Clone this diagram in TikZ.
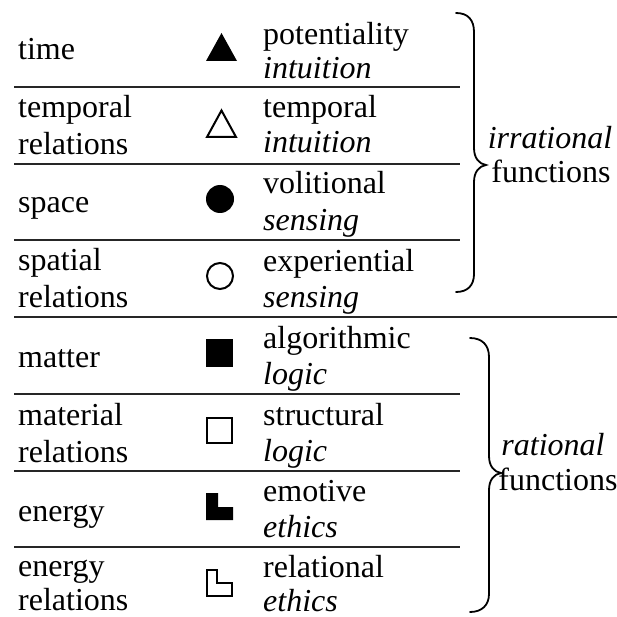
\documentclass[tikz,border=0pt]{standalone}
\usepackage{fontspec}
\setmainfont{Liberation Serif}
\begin{document}
\begin{tikzpicture}[x=1pt,y=-1pt,
  txt/.style={anchor=base west, inner sep=0pt, font=\fontsize{32}{36}\selectfont},
  ctxt/.style={anchor=base, inner sep=0pt, font=\fontsize{32}{36}\selectfont},
  rule/.style={line width=1.3pt, draw=black!85},
  symline/.style={line width=2pt, draw=black, line join=miter},
  symfill/.style={fill=black},
  brc/.style={line width=1.8pt, line cap=round, draw=black}]
\useasboundingbox (0,0) rectangle (617,617);
\fill[white] (0,0) rectangle (617,617);
% left column
\node[txt] (l1) at (18,60) {time};
\node[txt] (l2a) at (18,118) {temporal};
\node[txt] (l2b) at (18,155) {relations};
\node[txt] (l3) at (18,213) {space};
\node[txt] (l4a) at (18,270) {spatial};
\node[txt] (l4b) at (18,307) {relations};
\node[txt] (l5) at (18,367) {matter};
\node[txt] (l6a) at (18,425) {material};
\node[txt] (l6b) at (18,462) {relations};
\node[txt] (l7) at (18,521) {energy};
\node[txt] (l8a) at (18,576) {energy};
\node[txt] (l8b) at (18,610) {relations};
% right column
\node[txt] (r1a) at (263,45) {potentiality};
\node[txt] (r1b) at (263,79) {\itshape intuition};
\node[txt] (r2a) at (263,118) {temporal};
\node[txt] (r2b) at (263,153) {\itshape intuition};
\node[txt] (r3a) at (263,194) {volitional};
\node[txt] (r3b) at (263,230) {\itshape sensing};
\node[txt] (r4a) at (263,271) {experiential};
\node[txt] (r4b) at (263,307) {\itshape sensing};
\node[txt] (r5a) at (263,348) {algorithmic};
\node[txt] (r5b) at (263,384) {\itshape logic};
\node[txt] (r6a) at (263,425) {structural};
\node[txt] (r6b) at (263,461) {\itshape logic};
\node[txt] (r7a) at (263,501) {emotive};
\node[txt] (r7b) at (263,537) {\itshape ethics};
\node[txt] (r8a) at (263,577) {relational};
\node[txt] (r8b) at (263,611) {\itshape ethics};
% rules
\foreach \y in {87,164,240,394,471,547} \draw[rule] (14,\y) -- (460,\y);
\draw[rule] (14,317) -- (617,317);
% symbols
\fill[symfill] (206,61) -- (237,61) -- (221.5,33) -- cycle;
\draw[symline] (207,137) -- (236,137) -- (221.5,110.5) -- cycle;
\fill[symfill] (220,199) circle (14);
\draw[symline] (220,276) circle (13);
\fill[symfill] (206,339) rectangle (233,367);
\draw[symline] (207,418) rectangle (232,443);
\fill[symfill] (206,493) -- (218,493) -- (218,507) -- (233,507) -- (233,520) -- (206,520) -- cycle;
\draw[symline] (207,570) -- (217,570) -- (217,583) -- (232,583) -- (232,596) -- (207,596) -- cycle;
% braces
\draw[brc] (456,13) .. controls (468,13) and (474,20) .. (474,32)
  -- (474,148) .. controls (474,158) and (479,164) .. (486,165)
  .. controls (479,166) and (474,172) .. (474,182)
  -- (474,274) .. controls (474,285) and (468,292) .. (456,292);
\draw[brc] (470,338) .. controls (482,338) and (489,345) .. (489,357)
  -- (489,456) .. controls (489,466) and (494,472) .. (501,473)
  .. controls (494,474) and (489,480) .. (489,490)
  -- (489,594) .. controls (489,605) and (482,612) .. (470,612);
\node[ctxt] (irr) at (550,149) {\itshape irrational};
\node[ctxt] (fun1) at (551,183) {functions};
\node[ctxt] (rat) at (553,455) {\itshape rational};
\node[ctxt] (fun2) at (558,490) {functions};
\end{tikzpicture}
\end{document}
